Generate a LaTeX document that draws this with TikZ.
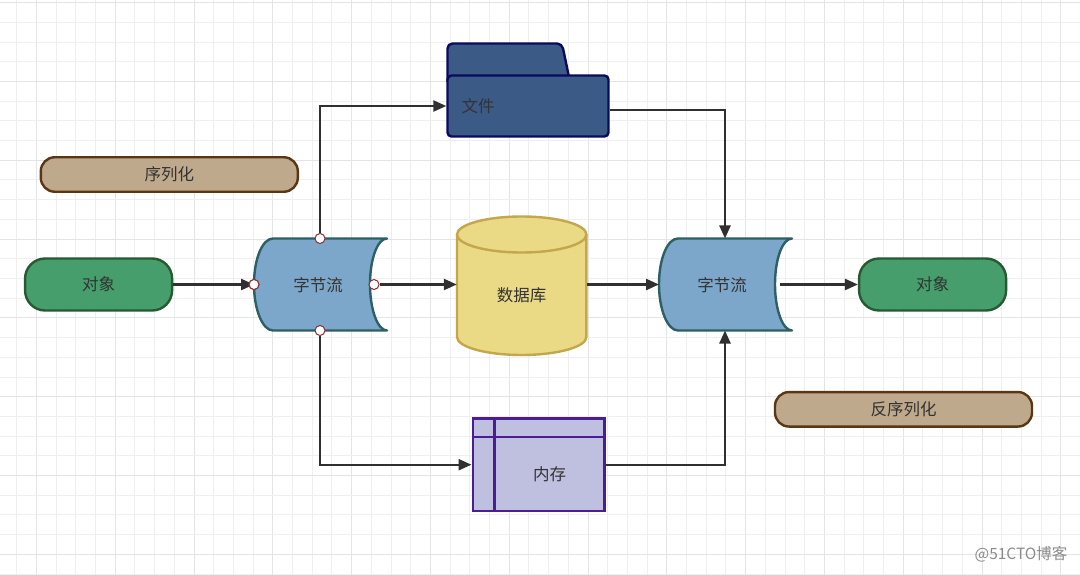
\documentclass[tikz,border=0pt]{standalone}
\usepackage{fontspec}
\newfontfamily\cjk{Noto Sans CJK SC}
\usetikzlibrary{arrows.meta,calc}
\definecolor{gridmin}{HTML}{EFEFEF}
\definecolor{gridmaj}{HTML}{E4E4E4}
\definecolor{txt}{HTML}{333333}
\definecolor{objfill}{HTML}{459E6B}
\definecolor{objdraw}{HTML}{275A33}
\definecolor{tanfill}{HTML}{BEA98C}
\definecolor{tandraw}{HTML}{5A3614}
\definecolor{bsfill}{HTML}{7DA7CA}
\definecolor{bsdraw}{HTML}{2C6064}
\definecolor{dbfill}{HTML}{EAD985}
\definecolor{dbdraw}{HTML}{C4A64C}
\definecolor{fofill}{HTML}{3C5A86}
\definecolor{fodraw}{HTML}{0B0B5C}
\definecolor{memfill}{HTML}{BFBFDF}
\definecolor{memdraw}{HTML}{4C1C94}
\definecolor{portdraw}{HTML}{8B2E2E}
\definecolor{conncol}{HTML}{303030}
\tikzset{
  lbl/.style={font=\cjk\fontsize{16.5}{19}\selectfont, text=txt},
  objbox/.style={lbl, draw=objdraw, fill=objfill, line width=2.4pt, rounded corners=20pt, minimum width=147pt, minimum height=52pt},
  tanbox/.style={lbl, draw=tandraw, fill=tanfill, line width=2.4pt, rounded corners=14pt, minimum width=257pt, minimum height=34.5pt},
  bsshape/.style={draw=bsdraw, fill=bsfill, line width=2.4pt, line join=round},
  port/.style={circle, draw=portdraw, fill=white, line width=1pt, minimum size=10pt, inner sep=0pt},
  conn/.style={draw=conncol, line width=2.4pt, -{Triangle[length=13pt,width=11pt]}},
  plain/.style={draw=none, fill=none, inner sep=0pt}
}
\begin{document}
\begin{tikzpicture}[x=1pt,y=-1pt]
\useasboundingbox (0,0) rectangle (1080,575);
\fill[white] (0,0) rectangle (1080,575);
% grid
\foreach \i in {0,...,54}{
  \pgfmathsetmacro\gx{16.7+19.7*\i}
  \pgfmathtruncatemacro\m{mod(\i,4)}
  \ifnum\m=1 \def\gc{gridmaj}\else\def\gc{gridmin}\fi
  \draw[\gc, line width=1pt] (\gx,0) -- (\gx,575);
}
\foreach \i in {0,...,29}{
  \pgfmathsetmacro\gy{2.7+19.7*\i}
  \pgfmathtruncatemacro\m{mod(\i,4)}
  \ifnum\m=0 \def\gc{gridmaj}\else\def\gc{gridmin}\fi
  \draw[\gc, line width=1pt] (0,\gy) -- (1080,\gy);
}

% labels
\node[tanbox] (ser) at (169.3,174.5) {序列化};
\node[tanbox] (deser) at (903.5,409.3) {反序列化};

% objects
\node[objbox] (obj1) at (98.6,284.5) {对象};
\node[objbox] (obj2) at (932.6,284.5) {对象};

% byte stream 1
\path[bsshape] (273,238.5) -- (387,238.5)
  .. controls (377.6,238.5) and (370,258.6) .. (370,284.5)
  .. controls (370,309.4) and (377.6,330.5) .. (387,330.5)
  -- (273,330.5)
  .. controls (262.5,330.5) and (254,309.4) .. (254,284.5)
  .. controls (254,258.6) and (262.5,238.5) .. cycle;
\node[lbl, plain] (bs1) at (318,285) {字节流};
% byte stream 2
\path[bsshape] (678,238.5) -- (792,238.5)
  .. controls (782.6,238.5) and (775,258.6) .. (775,284.5)
  .. controls (775,309.4) and (782.6,330.5) .. (792,330.5)
  -- (678,330.5)
  .. controls (667.5,330.5) and (659,309.4) .. (659,284.5)
  .. controls (659,258.6) and (667.5,238.5) .. cycle;
\node[lbl, plain] (bs2) at (722,285) {字节流};
\coordinate (bs2top) at (725,238.5);
\coordinate (bs2bot) at (725,330.5);
\coordinate (bs2w) at (659,284.5);
\coordinate (bs2e) at (780,284.5);

% database
\path[draw=dbdraw, fill=dbfill, line width=2.4pt] (457,234.5) -- (457,337)
  .. controls (457,346.9) and (485.9,355) .. (521.7,355)
  .. controls (557.5,355) and (586.4,346.9) .. (586.4,337)
  -- (586.4,234.5);
\draw[draw=dbdraw, fill=dbfill, line width=2.4pt] (521.7,234.5) ellipse [x radius=64.7pt, y radius=18pt];
\node[plain, minimum width=129.4pt, minimum height=100pt] (db) at (521.7,284.5) {};
\node[lbl, plain] (dbtxt) at (521.7,295) {数据库};

% folder (file)
\draw[draw=fodraw, fill=fofill, line width=2.4pt, rounded corners=5pt] (447.5,82) -- (447.5,43.5) -- (562,43.5) -- (570,82);
\node[lbl, draw=fodraw, fill=fofill, line width=2.4pt, rounded corners=4pt, minimum width=161pt, minimum height=61pt, inner xsep=14pt, text width=133pt, align=left] (file) at (528,106) {文件};

% memory
\node[draw=memdraw, fill=memfill, line width=2.4pt, minimum width=131.6pt, minimum height=92.7pt] (mem) at (538.5,464.7) {};
\draw[memdraw, line width=2.4pt] (494.3,418.3) -- (494.3,511);
\draw[memdraw, line width=2.4pt] (472.7,437) -- (604.3,437);
\node[lbl, plain] (memtxt) at (549.5,474.5) {内存};

% connectors
\draw[conn] (obj1.east) -- (254,284.5) coordinate (bs1w);
\node[port] (p1t) at (320,238.5) {};
\node[port] (p1b) at (320,330.5) {};
\node[port] (p1l) at (254,284.5) {};
\node[port] (p1r) at (374,284.5) {};
\draw[conn] (p1t.north) |- (file.west);
\draw[conn] (p1r.east) -- (db.west);
\draw[conn] (p1b.south) |- (mem.west);
\draw[conn] ([yshift=-4pt]file.east) -| (bs2top);
\draw[conn] (db.east) -- (bs2w);
\draw[conn] (mem.east) -| (bs2bot);
\draw[conn] (bs2e) -- (obj2.west);
% redraw left port above arrow tip
\node[port] at (p1l) {};

% watermark
\node[font=\cjk\fontsize{15.5}{18}\selectfont, text=black!45, inner sep=0pt] (wm) at (1021,554.5) {@51CTO博客};
\end{tikzpicture}
\end{document}
